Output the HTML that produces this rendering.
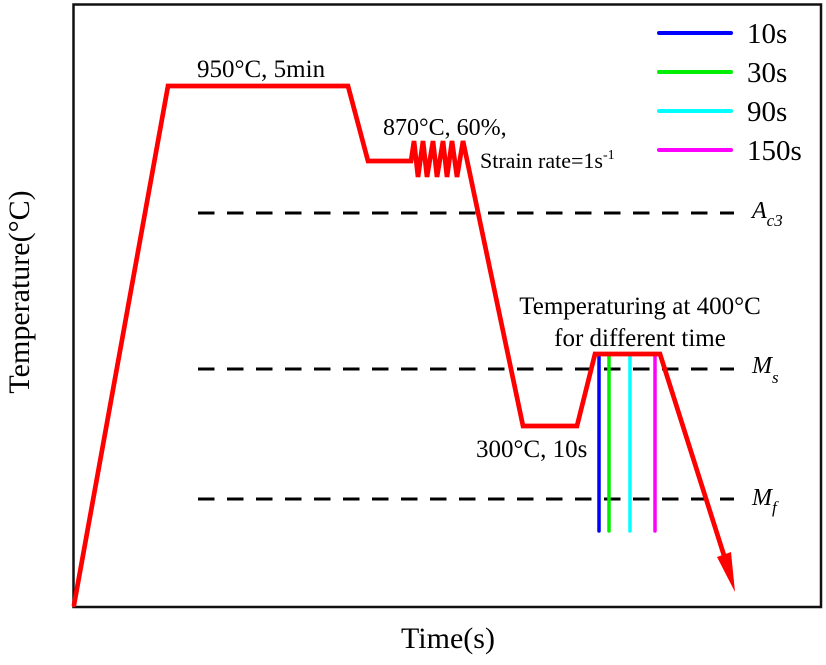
<!DOCTYPE html>
<html>
<head>
<meta charset="utf-8">
<style>
  html, body { margin: 0; padding: 0; background: #fff; }
  svg { display: block; }
  text { font-family: "Liberation Serif", "DejaVu Serif", serif; fill: #000; }
</style>
</head>
<body>
<svg width="826" height="665" viewBox="0 0 826 665" xmlns="http://www.w3.org/2000/svg">
  <rect x="0" y="0" width="826" height="665" fill="#fff"/>
  <!-- frame -->
  <rect x="73.5" y="4.5" width="747.5" height="602.5" fill="none" stroke="#111" stroke-width="2.5"/>

  <!-- dashed reference lines -->
  <g stroke="#000" stroke-width="3" stroke-dasharray="16.5 12.5" fill="none">
    <line x1="198" y1="213" x2="734" y2="213"/>
    <line x1="198" y1="369" x2="734" y2="369"/>
    <line x1="198" y1="499" x2="734" y2="499"/>
  </g>

  <!-- colored vertical lines -->
  <g stroke-width="3.5" stroke-linecap="round" fill="none">
    <line x1="599" y1="356" x2="599" y2="531" stroke="#0000ff"/>
    <line x1="609" y1="356" x2="609" y2="531" stroke="#00ee00"/>
    <line x1="630" y1="356" x2="630" y2="531" stroke="#00ffff"/>
    <line x1="655" y1="356" x2="655" y2="531" stroke="#ff00ff"/>
  </g>

  <!-- red process path -->
  <polyline fill="none" stroke="#ff0000" stroke-width="4.7" stroke-linejoin="miter" stroke-linecap="round"
    points="74,605 168,86 348,86 368,161 411,161 414,141 418,177 423,141 427,177 433,141 437,177 443,141 447,177 452,141 457,177 463,141 523,426 577,426 595,354 660,354 728,568"/>
  <!-- arrowhead -->
  <polygon fill="#ff0000" points="717,557 731,552 735,592"/>

  <!-- legend -->
  <g stroke-width="4" stroke-linecap="round">
    <line x1="659" y1="33" x2="731" y2="33" stroke="#0000ff"/>
    <line x1="659" y1="72" x2="731" y2="72" stroke="#00ee00"/>
    <line x1="659" y1="111" x2="731" y2="111" stroke="#00ffff"/>
    <line x1="659" y1="150" x2="731" y2="150" stroke="#ff00ff"/>
  </g>
  <g font-size="29">
    <text x="747" y="43">10s</text>
    <text x="747" y="82">30s</text>
    <text x="747" y="121">90s</text>
    <text x="747" y="160">150s</text>
  </g>

  <!-- annotations -->
  <text x="197" y="77" font-size="25">950°C, 5min</text>
  <text x="383" y="135" font-size="24">870°C, 60%,</text>
  <text x="480" y="168" font-size="22">Strain rate=1s<tspan font-size="14" dy="-9">-1</tspan></text>
  <text x="640" y="314" font-size="25" text-anchor="middle">Temperaturing at 400°C</text>
  <text x="640" y="346" font-size="25" text-anchor="middle">for different time</text>
  <text x="476" y="457" font-size="25">300°C, 10s</text>

  <!-- transformation labels -->
  <text x="752" y="218" font-size="24" font-style="italic">A<tspan font-size="17" dy="8">c3</tspan></text>
  <text x="752" y="373" font-size="24" font-style="italic">M<tspan font-size="17" dy="10">s</tspan></text>
  <text x="752" y="505" font-size="24" font-style="italic">M<tspan font-size="17" dy="8">f</tspan></text>

  <!-- axis titles -->
  <text x="448" y="648" font-size="30" text-anchor="middle">Time(s)</text>
  <text x="0" y="0" font-size="30" text-anchor="middle" transform="translate(29,292) rotate(-90)">Temperature(°C)</text>
</svg>
</body>
</html>
